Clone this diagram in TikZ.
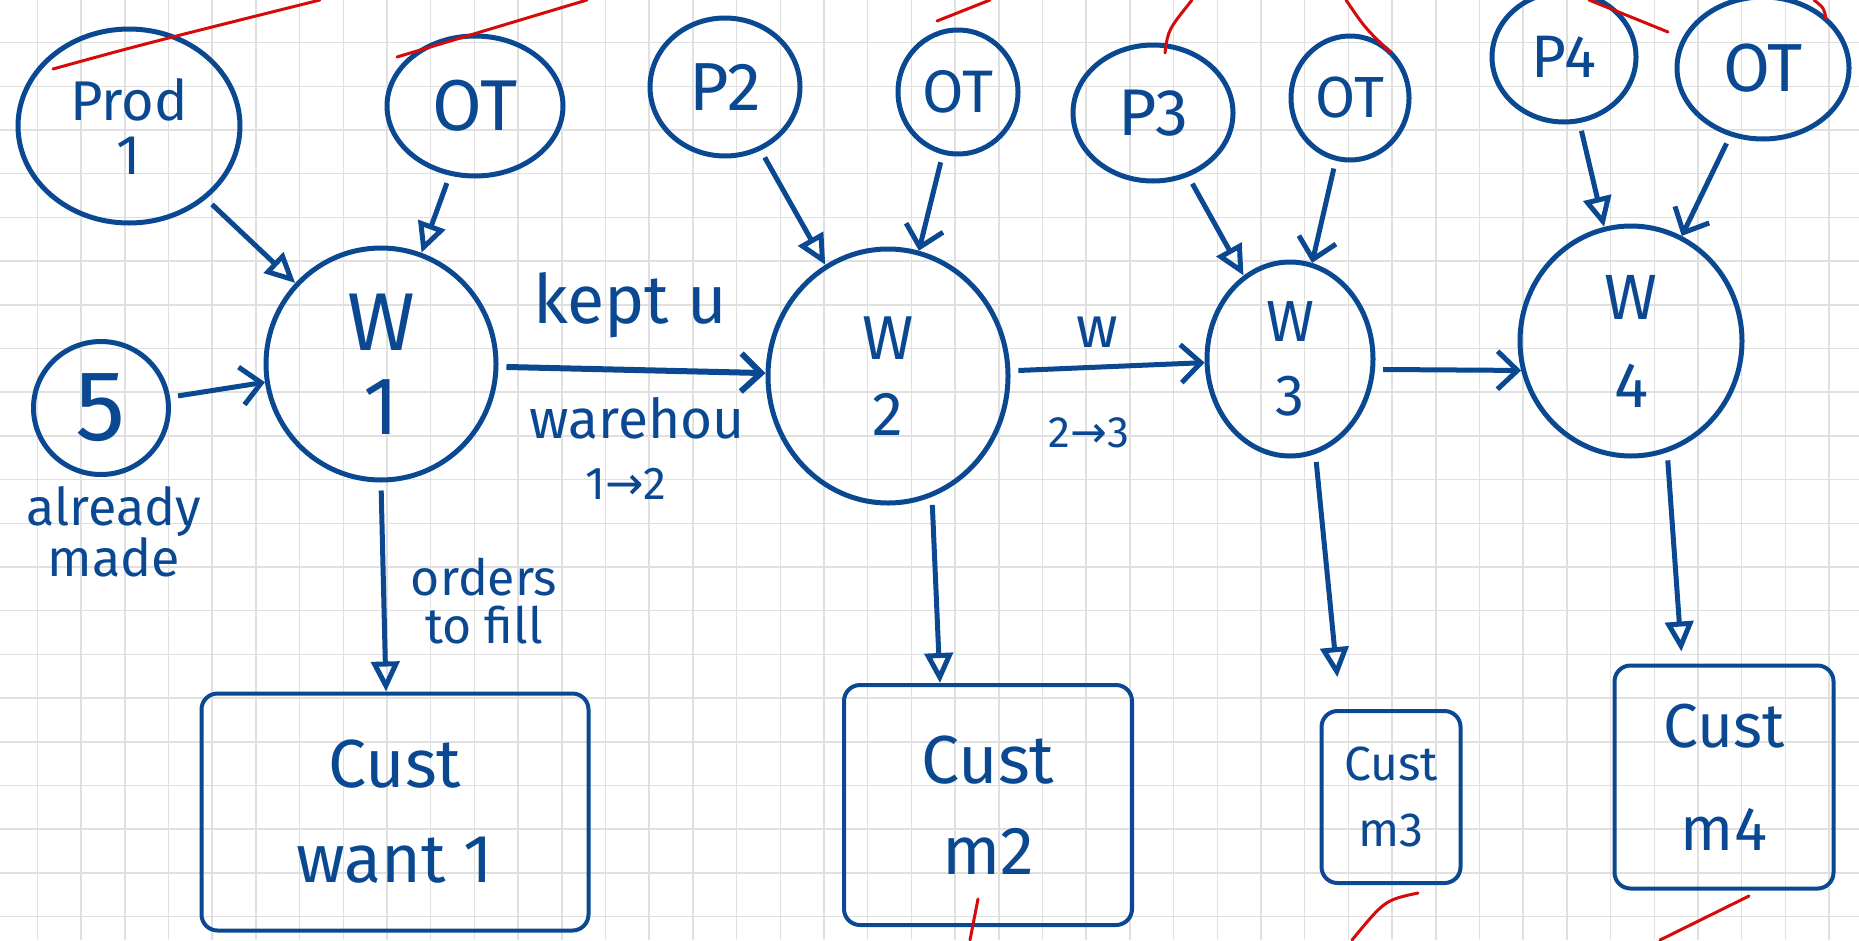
\documentclass[tikz,border=0pt]{standalone}
\usepackage{fontspec}
\setmainfont{Fira Sans}
\newfontfamily\arrowfont{DejaVu Sans}
\usetikzlibrary{arrows.meta,shapes.geometric,calc}
\definecolor{inkblue}{RGB}{10,72,146}
\definecolor{inkred}{RGB}{214,10,10}
\definecolor{gridgray}{RGB}{224,224,224}
\tikzset{
  gridline/.style={draw=gridgray,line width=1.5pt},
  bubble/.style={ellipse,draw=inkblue,line width=5pt,inner sep=0pt,text=inkblue,align=center},
  custbox/.style={rectangle,draw=inkblue,line width=4pt,rounded corners=16pt,inner sep=0pt,text=inkblue,align=center},
  lbl/.style={text=inkblue,align=center,inner sep=0pt},
  flow/.style={draw=inkblue,line width=5pt,shorten <=8pt},
  tri/.style={flow,-{Triangle[open,length=30pt,width=28pt]}},
  barb/.style={flow,-{Straight Barb[length=20pt,width=38pt]}},
  redmark/.style={draw=inkred,line width=3pt,line cap=round},
}
\begin{document}
\begin{tikzpicture}[x=1pt,y=-1pt]
\useasboundingbox (0,0) rectangle (1859,940);
\fill[white] (0,0) rectangle (1859,940);
% grid
\foreach \i in {0,...,42} \draw[gridline] ({37.4+43.7*\i},0) -- ++(0,940);
\foreach \j in {1,...,21} \draw[gridline] (0,{-1.1+43.7*\j}) -- ++(1859,0);

% top inputs
\node[bubble,minimum width=222pt,minimum height=194pt,font=\fontsize{56}{54}\selectfont] (prod1) at (129,126) {Prod\\1};
\node[bubble,minimum width=176pt,minimum height=140pt,font=\fontsize{72}{72}\selectfont] (ot1) at (475,106) {OT};
\node[bubble,minimum width=150pt,minimum height=138pt,font=\fontsize{68}{68}\selectfont] (p2) at (725,87) {P2};
\node[bubble,minimum width=120pt,minimum height=124pt,font=\fontsize{60}{60}\selectfont] (ot2) at (958,92) {OT};
\node[bubble,minimum width=160pt,minimum height=136pt,font=\fontsize{66}{66}\selectfont] (p3) at (1153,113) {P3};
\node[bubble,minimum width=118pt,minimum height=124pt,font=\fontsize{58}{58}\selectfont] (ot3) at (1350,98) {OT};
\node[bubble,minimum width=144pt,minimum height=130pt,font=\fontsize{60}{60}\selectfont] (p4) at (1564,57) {P4};
\node[bubble,minimum width=172pt,minimum height=142pt,font=\fontsize{68}{68}\selectfont] (ot4) at (1763,68) {OT};

% warehouses
\node[bubble,minimum width=230pt,minimum height=232pt,font=\fontsize{82}{84}\selectfont] (w1) at (381,364) {W\\1};
\node[bubble,minimum width=240pt,minimum height=254pt,font=\fontsize{62}{76}\selectfont] (w2) at (888,376) {W\\2};
\node[bubble,minimum width=166pt,minimum height=194pt,font=\fontsize{58}{74}\selectfont] (w3) at (1290,359) {W\\3};
\node[bubble,minimum width=222pt,minimum height=230pt,font=\fontsize{64}{88}\selectfont] (w4) at (1631,341) {W\\4};

% initial stock
\node[bubble,minimum width=135pt,minimum height=133pt,font=\fontsize{100}{100}\selectfont] (five) at (101,408) {5};
\node[lbl,font=\fontsize{52}{50}\selectfont] (already) at (114,532) {already\\made};

% customers
\node[custbox,minimum width=387pt,minimum height=237pt,font=\fontsize{68}{95}\selectfont] (c1) at (395,812) {Cust\\want 1};
\node[custbox,minimum width=288pt,minimum height=240pt,font=\fontsize{68}{91}\selectfont] (c2) at (988,805) {Cust\\m2};
\node[custbox,minimum width=139pt,minimum height=172pt,font=\fontsize{48}{66}\selectfont] (c3) at (1391,797) {Cust\\m3};
\node[custbox,minimum width=219pt,minimum height=223pt,font=\fontsize{62}{103}\selectfont] (c4) at (1724,777) {Cust\\m4};

% labels
\node[lbl,font=\fontsize{68}{68}\selectfont] (kept) at (630,305) {kept u};
\node[lbl,font=\fontsize{55}{55}\selectfont] (wareh) at (637,418) {warehou};
\node[lbl,font=\fontsize{46}{46}\selectfont] (onetwo) at (626,484) {1{\arrowfont →}2};
\node[lbl,font=\fontsize{58}{58}\selectfont] (wlbl) at (1097,332) {w};
\node[lbl,font=\fontsize{44}{44}\selectfont] (twothree) at (1089,433) {2{\arrowfont →}3};
\node[lbl,font=\fontsize{50}{48}\selectfont] (orders) at (484,601) {orders\\to fill};

% connectors into warehouses
\draw[tri] (prod1) -- (w1);
\draw[tri] (ot1) -- (w1);
\draw[barb] (five) -- (w1);
\draw[barb,line width=6pt] (w1) -- (w2);
\draw[tri] (p2) -- (w2);
\draw[barb] (ot2) -- (w2);
\draw[barb] (w2) -- (w3);
\draw[tri] (p3) -- (w3);
\draw[barb] (ot3) -- (w3);
\draw[barb] (w3.-7) -- (w4.195);
\draw[tri] (p4) -- (w4);
\draw[barb] (ot4) -- (w4);

% connectors to customers
\draw[tri] (w1.south) -- ($(w1.south |- c1.north)+(5,0)$);
\draw[tri] (w2.-70) -- ($(w2.-70 |- c2.north)+(8,0)$);
\draw[tri,shorten >=32pt] (w3.-75) -- ($(w3.-75 |- c3.north)+(25,0)$);
\draw[tri,shorten >=12pt] (w4.-72) -- ($(w4.-72 |- c4.north)+(15,0)$);

% red marks
\draw[redmark] (53,69) .. controls (140,45) .. (320,0);
\draw[redmark] (397,57) -- (587,0);
\draw[redmark] (937,21) -- (990,0);
\draw[redmark] (1165,53) .. controls (1168,30) .. (1192,0);
\draw[redmark] (1346,0) .. controls (1365,28) .. (1390,52);
\draw[redmark] (1589,0) -- (1668,32);
\draw[redmark] (1814,0) .. controls (1824,8) .. (1826,19);
\draw[redmark] (978,899) -- (970,940);
\draw[redmark] (1352,940) .. controls (1385,900) .. (1418,893);
\draw[redmark] (1660,940) -- (1749,896);
\end{tikzpicture}
\end{document}
